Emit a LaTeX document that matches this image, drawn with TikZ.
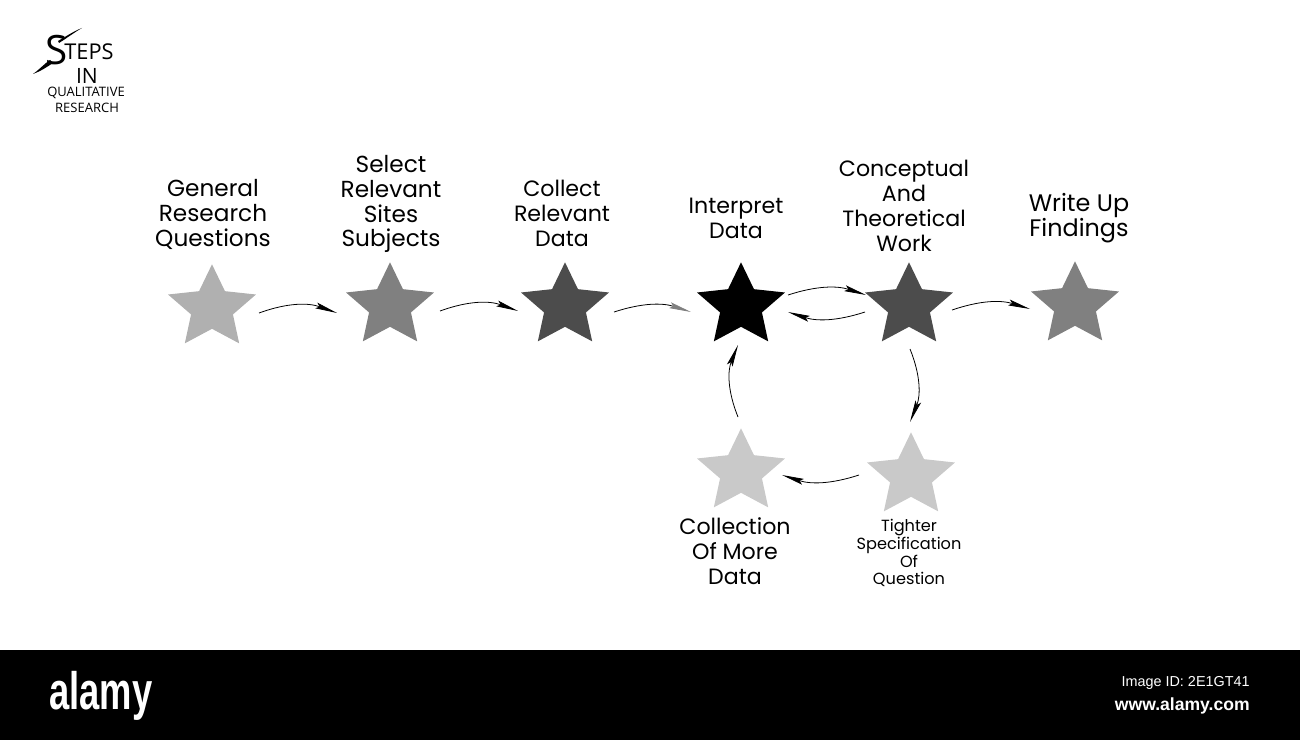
\documentclass[tikz,border=0pt]{standalone}
\usepackage{fontspec}
\setmainfont{Poppins}
\newfontfamily\logofont{Open Sans}
\newfontfamily\bandfont{Liberation Sans}
\usetikzlibrary{shapes.geometric,arrows.meta}
\tikzset{
  starnode/.style={star,star points=5,star point ratio=2.1,draw=none,inner sep=0pt,
    minimum size=1.85cm,transform shape,yscale=.945},
  steplabel/.style={align=center,font=\fontsize{#1}{14.2}\selectfont,text=black},
  steplabel/.default=12.6,
  smalllabel/.style={align=center,font=\fontsize{9.2}{10.2}\selectfont,text=black},
  flow/.style={line width=.45pt,-{Stealth[length=.44cm,width=.12cm,inset=.07cm]}},
  logotext/.style={inner sep=0pt,font=\logofont\fontsize{#1}{#1}\selectfont}
}
\begin{document}
\begin{tikzpicture}[x=0.02cm,y=-0.02cm]
  \useasboundingbox (0,0) rectangle (1300,740);
  % stars
  \foreach \name/\x/\y/\shade in {general/212/308/31,select/390/306/50,collect/565/306/70,
    interpret/741/306/100,theory/909/306/70,write/1075/305/50,more/741/472/21,tighter/911/476/21}
  \node[at={(\x,\y)},starnode,fill=black!\shade] (\name) {};
  % labels
  \node[steplabel=13.2] (lgeneral) at (213,214) {General\\Research\\Questions};
  \node[steplabel=13.2] (lselect) at (391,204) {Select\\Relevant\\Sites\\Subjects};
  \node[steplabel] (lcollect) at (562,213) {Collect\\Relevant\\Data};
  \node[steplabel] (linterpret) at (736,218) {Interpret\\Data};
  \node[steplabel] (ltheory) at (904,206) {Conceptual\\And\\Theoretical\\Work};
  \node[steplabel=13.6] (lwrite) at (1079,218) {Write Up\\Findings};
  \node[steplabel] (lmore) at (735,551) {Collection\\Of More\\Data};
  \node[smalllabel] (ltighter) at (909,553) {Tighter\\Specification\\Of\\Question};
  % connectors
  \draw[flow] ([shift={(47,5)}]general.center) to[bend left=20] ([shift={(-53,7)}]select.center);
  \draw[flow] ([shift={(50,5)}]select.center) to[bend left=20] ([shift={(-47,5)}]collect.center);
  \draw[line width=.45pt,-{Stealth[length=.44cm,width=.12cm,inset=.07cm,color=gray]}]
    ([shift={(49,6)}]collect.center) to[bend left=18] ([shift={(-50,6)}]interpret.center);
  \draw[flow] ([shift={(47,-11)}]interpret.center) to[bend left=18] ([shift={(-43,-11)}]theory.center);
  \draw[flow] ([shift={(-44,6)}]theory.center) to[bend left=18] ([shift={(47,6)}]interpret.center);
  \draw[flow] ([shift={(43,4)}]theory.center) to[bend left=18] ([shift={(-45,4)}]write.center);
  \draw[flow] ([shift={(1,43)}]theory.center) to[bend left=22] ([shift={(-1,-54)}]tighter.center);
  \draw[flow] ([shift={(-52,-1)}]tighter.center) to[bend left=18] ([shift={(41,3)}]more.center);
  \draw[flow] ([shift={(-3,-55)}]more.center) to[bend left=22] ([shift={(-3,39)}]interpret.center);
  % logo
  \node[logotext=23,anchor=base west] (logos) at (45,65) {S};
  \node[logotext=12.4,anchor=base west] (logoteps) at (64,60) {TEPS};
  \node[logotext=12] (logoin) at (87,76) {IN};
  \node[logotext=7.4] (logoqual) at (86,93) {QUALITATIVE};
  \node[logotext=7.4] (logores) at (87,108) {RESEARCH};
  \fill (58,41) .. controls (65,37) and (74,31) .. (82,28) .. controls (75,32) and (67,38) .. (59,43) -- cycle;
  \fill (50,60) .. controls (44,64) and (40,69) .. (33,74) .. controls (41,71) and (47,67) .. (53,63) -- cycle;
  % band
  \fill[black] (0,650) rectangle (1300,740);
  \node[text=white,inner sep=0pt] (alamy) at (101,696) {\bandfont\bfseries\scalebox{.69}[1]{\fontsize{30}{30}\selectfont alamy}};
  \node[text=white,inner sep=0pt,anchor=east] (imageid) at (1250,683) {\bandfont\fontsize{8.2}{9}\selectfont Image ID: 2E1GT41};
  \node[text=white,inner sep=0pt,anchor=east] (website) at (1250,706) {\bandfont\bfseries\fontsize{10}{11}\selectfont www.alamy.com};
\end{tikzpicture}
\end{document}
